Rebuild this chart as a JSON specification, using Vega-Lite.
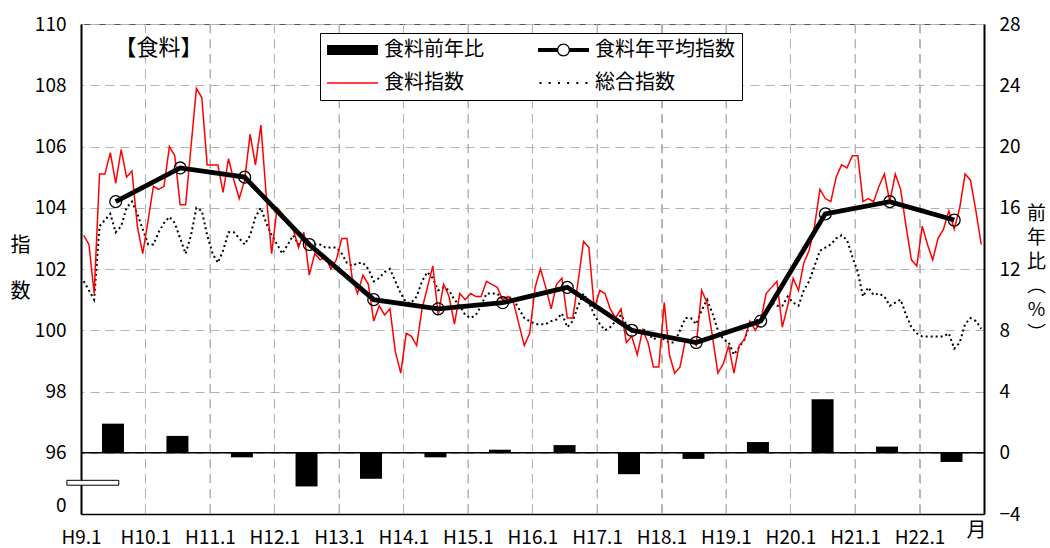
{
  "$schema": "https://vega.github.io/schema/vega-lite/v6.json",
  "width": 903,
  "height": 490,
  "autosize": {"type": "none"},
  "padding": {"left": 81, "top": 24, "right": 66, "bottom": 34},
  "background": "white",
  "config": {
    "font": "Noto Sans CJK JP",
    "view": {"stroke": "#555555", "strokeWidth": 1},
    "axis": {
      "labelFont": "Noto Sans CJK JP",
      "labelFontSize": 19,
      "labelColor": "black",
      "titleFont": "Noto Sans CJK JP",
      "titleFontSize": 20,
      "titleFontWeight": "normal",
      "titleColor": "black",
      "domainColor": "black",
      "domainWidth": 2,
      "ticks": false,
      "gridColor": "#b4b4b4",
      "gridDash": [9, 6],
      "gridWidth": 1
    }
  },
  "datasets": {
    "monthly": [
      {"d":"1997-01","food":103.1,"total":101.6},{"d":"1997-02","food":102.8,"total":101.3},{"d":"1997-03","food":101.2,"total":101.0},{"d":"1997-04","food":105.1,"total":103.4},{"d":"1997-05","food":105.1,"total":103.6},{"d":"1997-06","food":105.8,"total":103.8},{"d":"1997-07","food":104.8,"total":103.2},{"d":"1997-08","food":105.9,"total":103.4},{"d":"1997-09","food":105.0,"total":104.0},{"d":"1997-10","food":105.2,"total":104.2},{"d":"1997-11","food":103.4,"total":103.8},{"d":"1997-12","food":102.5,"total":103.3},
      {"d":"1998-01","food":103.6,"total":102.8},{"d":"1998-02","food":104.7,"total":102.8},{"d":"1998-03","food":104.6,"total":103.2},{"d":"1998-04","food":104.7,"total":103.5},{"d":"1998-05","food":106.0,"total":103.7},{"d":"1998-06","food":105.7,"total":103.5},{"d":"1998-07","food":104.1,"total":103.0},{"d":"1998-08","food":104.1,"total":102.5},{"d":"1998-09","food":106.0,"total":103.1},{"d":"1998-10","food":107.9,"total":104.0},{"d":"1998-11","food":107.6,"total":103.9},{"d":"1998-12","food":105.4,"total":103.1},
      {"d":"1999-01","food":105.4,"total":102.5},{"d":"1999-02","food":105.4,"total":102.2},{"d":"1999-03","food":104.5,"total":102.6},{"d":"1999-04","food":105.6,"total":103.2},{"d":"1999-05","food":104.9,"total":103.2},{"d":"1999-06","food":104.3,"total":103.0},{"d":"1999-07","food":104.9,"total":102.8},{"d":"1999-08","food":106.4,"total":103.1},{"d":"1999-09","food":105.4,"total":103.7},{"d":"1999-10","food":106.7,"total":104.0},{"d":"1999-11","food":104.4,"total":103.5},{"d":"1999-12","food":102.5,"total":103.1},
      {"d":"2000-01","food":104.0,"total":102.8},{"d":"2000-02","food":103.8,"total":102.5},{"d":"2000-03","food":103.5,"total":102.8},{"d":"2000-04","food":103.3,"total":103.1},{"d":"2000-05","food":102.7,"total":102.8},{"d":"2000-06","food":103.2,"total":103.0},{"d":"2000-07","food":101.8,"total":102.7},{"d":"2000-08","food":102.5,"total":102.8},{"d":"2000-09","food":102.3,"total":102.8},{"d":"2000-10","food":102.4,"total":102.7},{"d":"2000-11","food":102.0,"total":102.7},{"d":"2000-12","food":102.3,"total":102.7},
      {"d":"2001-01","food":103.0,"total":102.5},{"d":"2001-02","food":103.0,"total":102.2},{"d":"2001-03","food":101.7,"total":102.1},{"d":"2001-04","food":101.2,"total":102.2},{"d":"2001-05","food":101.8,"total":102.2},{"d":"2001-06","food":101.5,"total":102.0},{"d":"2001-07","food":100.3,"total":101.6},{"d":"2001-08","food":100.8,"total":101.7},{"d":"2001-09","food":100.5,"total":101.9},{"d":"2001-10","food":100.7,"total":102.0},{"d":"2001-11","food":99.3,"total":101.6},{"d":"2001-12","food":98.6,"total":101.2},
      {"d":"2002-01","food":99.9,"total":100.9},{"d":"2002-02","food":99.8,"total":100.9},{"d":"2002-03","food":99.5,"total":101.1},{"d":"2002-04","food":100.7,"total":101.6},{"d":"2002-05","food":101.4,"total":101.9},{"d":"2002-06","food":102.1,"total":101.7},{"d":"2002-07","food":100.5,"total":101.3},{"d":"2002-08","food":101.5,"total":101.4},{"d":"2002-09","food":101.1,"total":101.3},{"d":"2002-10","food":100.2,"total":101.0},{"d":"2002-11","food":101.2,"total":100.8},{"d":"2002-12","food":101.0,"total":100.5},
      {"d":"2003-01","food":101.2,"total":100.4},{"d":"2003-02","food":101.1,"total":100.5},{"d":"2003-03","food":101.1,"total":100.8},{"d":"2003-04","food":101.6,"total":101.2},{"d":"2003-05","food":101.5,"total":101.2},{"d":"2003-06","food":101.4,"total":101.2},{"d":"2003-07","food":101.0,"total":101.0},{"d":"2003-08","food":101.1,"total":101.1},{"d":"2003-09","food":100.9,"total":101.0},{"d":"2003-10","food":100.2,"total":100.7},{"d":"2003-11","food":99.5,"total":100.4},{"d":"2003-12","food":99.9,"total":100.3},
      {"d":"2004-01","food":101.4,"total":100.2},{"d":"2004-02","food":102.0,"total":100.2},{"d":"2004-03","food":101.4,"total":100.2},{"d":"2004-04","food":100.7,"total":100.3},{"d":"2004-05","food":101.5,"total":100.35},{"d":"2004-06","food":101.7,"total":100.55},{"d":"2004-07","food":100.4,"total":100.1},{"d":"2004-08","food":100.4,"total":100.3},{"d":"2004-09","food":101.6,"total":100.8},{"d":"2004-10","food":102.9,"total":101.2},{"d":"2004-11","food":102.7,"total":100.9},{"d":"2004-12","food":100.7,"total":100.5},
      {"d":"2005-01","food":101.3,"total":100.2},{"d":"2005-02","food":101.2,"total":100.0},{"d":"2005-03","food":100.7,"total":100.1},{"d":"2005-04","food":100.4,"total":100.3},{"d":"2005-05","food":100.7,"total":100.5},{"d":"2005-06","food":99.6,"total":100.2},{"d":"2005-07","food":99.8,"total":100.05},{"d":"2005-08","food":99.2,"total":99.9},{"d":"2005-09","food":100.0,"total":100.05},{"d":"2005-10","food":99.6,"total":99.9},{"d":"2005-11","food":98.8,"total":99.7},{"d":"2005-12","food":98.8,"total":99.8},
      {"d":"2006-01","food":100.9,"total":99.7},{"d":"2006-02","food":99.2,"total":99.6},{"d":"2006-03","food":98.6,"total":99.6},{"d":"2006-04","food":98.8,"total":100.0},{"d":"2006-05","food":99.7,"total":100.4},{"d":"2006-06","food":99.7,"total":100.4},{"d":"2006-07","food":99.5,"total":100.2},{"d":"2006-08","food":101.3,"total":100.65},{"d":"2006-09","food":100.9,"total":101.0},{"d":"2006-10","food":99.8,"total":100.55},{"d":"2006-11","food":98.6,"total":100.0},{"d":"2006-12","food":98.9,"total":99.7},
      {"d":"2007-01","food":99.5,"total":99.6},{"d":"2007-02","food":98.6,"total":99.2},{"d":"2007-03","food":99.5,"total":99.45},{"d":"2007-04","food":99.7,"total":99.7},{"d":"2007-05","food":100.3,"total":100.2},{"d":"2007-06","food":100.0,"total":100.3},{"d":"2007-07","food":100.3,"total":100.4},{"d":"2007-08","food":101.2,"total":100.65},{"d":"2007-09","food":101.4,"total":100.9},{"d":"2007-10","food":101.6,"total":100.8},{"d":"2007-11","food":100.1,"total":100.8},{"d":"2007-12","food":100.8,"total":101.1},
      {"d":"2008-01","food":101.7,"total":100.9},{"d":"2008-02","food":101.3,"total":100.8},{"d":"2008-03","food":102.2,"total":101.3},{"d":"2008-04","food":102.6,"total":101.6},{"d":"2008-05","food":103.4,"total":102.1},{"d":"2008-06","food":104.6,"total":102.6},{"d":"2008-07","food":104.3,"total":102.7},{"d":"2008-08","food":104.2,"total":102.8},{"d":"2008-09","food":105.0,"total":103.0},{"d":"2008-10","food":105.4,"total":103.1},{"d":"2008-11","food":105.3,"total":102.95},{"d":"2008-12","food":105.7,"total":102.4},
      {"d":"2009-01","food":105.7,"total":101.9},{"d":"2009-02","food":104.2,"total":101.1},{"d":"2009-03","food":104.3,"total":101.4},{"d":"2009-04","food":104.2,"total":101.15},{"d":"2009-05","food":104.7,"total":101.2},{"d":"2009-06","food":105.1,"total":101.1},{"d":"2009-07","food":104.2,"total":100.8},{"d":"2009-08","food":105.1,"total":100.9},{"d":"2009-09","food":104.6,"total":101.0},{"d":"2009-10","food":103.4,"total":100.5},{"d":"2009-11","food":102.3,"total":100.1},{"d":"2009-12","food":102.1,"total":99.9},
      {"d":"2010-01","food":103.4,"total":99.8},{"d":"2010-02","food":102.8,"total":99.8},{"d":"2010-03","food":102.3,"total":99.8},{"d":"2010-04","food":103.0,"total":99.8},{"d":"2010-05","food":103.3,"total":99.8},{"d":"2010-06","food":103.9,"total":99.9},{"d":"2010-07","food":103.3,"total":99.4},{"d":"2010-08","food":104.0,"total":99.6},{"d":"2010-09","food":105.1,"total":100.2},{"d":"2010-10","food":104.9,"total":100.4},{"d":"2010-11","food":103.9,"total":100.3},{"d":"2010-12","food":102.8,"total":100.05}
    ],
    "annual": [
      {"d":"1997-07","avg":104.2,"yoy":1.9},{"d":"1998-07","avg":105.3,"yoy":1.1},{"d":"1999-07","avg":105.0,"yoy":-0.3},{"d":"2000-07","avg":102.8,"yoy":-2.2},{"d":"2001-07","avg":101.0,"yoy":-1.7},{"d":"2002-07","avg":100.7,"yoy":-0.3},{"d":"2003-07","avg":100.9,"yoy":0.2},{"d":"2004-07","avg":101.4,"yoy":0.5},{"d":"2005-07","avg":100.0,"yoy":-1.4},{"d":"2006-07","avg":99.6,"yoy":-0.4},{"d":"2007-07","avg":100.3,"yoy":0.7},{"d":"2008-07","avg":103.8,"yoy":3.5},{"d":"2009-07","avg":104.2,"yoy":0.4},{"d":"2010-07","avg":103.6,"yoy":-0.6}
    ],
    "years": [{"g":"1998-01"},{"g":"1999-01"},{"g":"2000-01"},{"g":"2001-01"},{"g":"2002-01"},{"g":"2003-01"},{"g":"2004-01"},{"g":"2005-01"},{"g":"2006-01"},{"g":"2007-01"},{"g":"2008-01"},{"g":"2009-01"},{"g":"2010-01"}],
    "keys": [{"s":"食料前年比"},{"s":"食料年平均指数"},{"s":"食料指数"},{"s":"総合指数"}]
  },
  "layer": [
    {
      "layer": [
        {
          "data": {"name": "years"},
          "mark": {"type": "rule", "color": "#b4b4b4", "strokeWidth": 1, "strokeDash": [9, 6]},
          "encoding": {
            "x": {"field": "g", "type": "temporal",
              "axis": {"tickCount": {"interval": "year", "step": 1}, "grid": true, "labelExpr": "utcyear(datum.value) < 2011 ? 'H' + (utcyear(datum.value) - 1988) + '.1' : ''", "labelPadding": 14, "labelFlush": false, "labelOverlap": false, "domainWidth": 1.5, "title": "月", "titleX": 895, "titleY": 16, "titleAlign": "center", "titleBaseline": "middle"}}
          }
        },
        {
          "data": {"name": "annual"},
          "mark": {"type": "bar", "size": 22, "color": "black"},
          "encoding": {
            "x": {
              "field": "d", "type": "temporal",
              "scale": {"type": "utc", "nice": false, "padding": 0, "domain": [{"year":1997,"month":1,"date":1,"utc":true},{"year":2011,"month":1,"date":1,"utc":true}]},
              "axis": {"tickCount": {"interval": "year", "step": 1}, "grid": true, "labelExpr": "utcyear(datum.value) < 2011 ? 'H' + (utcyear(datum.value) - 1988) + '.1' : ''", "labelPadding": 14, "labelFlush": false, "labelOverlap": false, "domainWidth": 1.5, "title": "月", "titleX": 895, "titleY": 16, "titleAlign": "center", "titleBaseline": "middle"}
            },
            "y": {
              "field": "yoy", "type": "quantitative",
              "scale": {"domain": [-4, 28], "nice": false, "zero": false},
              "axis": {"orient": "right", "values": [-4, 0, 4, 8, 12, 16, 20, 24, 28], "grid": true, "labelPadding": 15, "title": ["前", "年", "比", "︵", "%", "︶"], "titleFontSize": 19, "titleAngle": 0, "titleX": 52, "titleY": 189, "titleLineHeight": 24, "titleAlign": "center", "titleBaseline": "middle"}
            },
            "y2": {"datum": 0}
          }
        },
        {
          "data": {"values": [{}]},
          "mark": {"type": "rule", "color": "black", "strokeWidth": 1.5},
          "encoding": {"y": {"datum": 0, "type": "quantitative"}}
        }
      ]
    },
    {
      "layer": [
        {
          "data": {"name": "monthly"},
          "mark": {"type": "line", "color": "black", "strokeWidth": 2, "strokeDash": [2, 3]},
          "encoding": {
            "x": {"field": "d", "timeUnit": "utcyearmonth", "type": "temporal", "bandPosition": 0.5,
              "axis": {"tickCount": {"interval": "year", "step": 1}, "grid": true, "labelExpr": "utcyear(datum.value) < 2011 ? 'H' + (utcyear(datum.value) - 1988) + '.1' : ''", "labelPadding": 14, "labelFlush": false, "labelOverlap": false, "domainWidth": 1.5, "title": "月", "titleX": 895, "titleY": 16, "titleAlign": "center", "titleBaseline": "middle"}},
            "y": {
              "field": "total", "type": "quantitative",
              "scale": {"domain": [94, 110], "nice": false, "zero": false},
              "axis": {"orient": "left", "values": [94.27, 96, 98, 100, 102, 104, 106, 108, 110], "format": "d", "labelExpr": "datum.value < 95 ? '0' : datum.label", "grid": false, "labelPadding": 15, "title": ["指", "数"], "titleAngle": 0, "titleX": -61, "titleY": 221, "titleLineHeight": 46, "titleAlign": "center", "titleBaseline": "middle"}
            }
          }
        },
        {
          "data": {"name": "monthly"},
          "mark": {"type": "line", "color": "#ff0000", "strokeWidth": 1.5},
          "encoding": {
            "x": {"field": "d", "timeUnit": "utcyearmonth", "type": "temporal", "bandPosition": 0.5,
              "axis": {"tickCount": {"interval": "year", "step": 1}, "grid": true, "labelExpr": "utcyear(datum.value) < 2011 ? 'H' + (utcyear(datum.value) - 1988) + '.1' : ''", "labelPadding": 14, "labelFlush": false, "labelOverlap": false, "domainWidth": 1.5, "title": "月", "titleX": 895, "titleY": 16, "titleAlign": "center", "titleBaseline": "middle"}},
            "y": {"field": "food", "type": "quantitative",
              "axis": {"orient": "left", "values": [94.27, 96, 98, 100, 102, 104, 106, 108, 110], "format": "d", "labelExpr": "datum.value < 95 ? '0' : datum.label", "grid": false, "labelPadding": 15, "title": ["指", "数"], "titleAngle": 0, "titleX": -61, "titleY": 221, "titleLineHeight": 46, "titleAlign": "center", "titleBaseline": "middle"}}
          }
        },
        {
          "data": {"name": "annual"},
          "mark": {"type": "line", "color": "black", "strokeWidth": 4.8},
          "encoding": {
            "x": {"field": "d", "timeUnit": "utcyearmonth", "type": "temporal", "bandPosition": 0.5,
              "axis": {"tickCount": {"interval": "year", "step": 1}, "grid": true, "labelExpr": "utcyear(datum.value) < 2011 ? 'H' + (utcyear(datum.value) - 1988) + '.1' : ''", "labelPadding": 14, "labelFlush": false, "labelOverlap": false, "domainWidth": 1.5, "title": "月", "titleX": 895, "titleY": 16, "titleAlign": "center", "titleBaseline": "middle"}},
            "y": {"field": "avg", "type": "quantitative",
              "axis": {"orient": "left", "values": [94.27, 96, 98, 100, 102, 104, 106, 108, 110], "format": "d", "labelExpr": "datum.value < 95 ? '0' : datum.label", "grid": false, "labelPadding": 15, "title": ["指", "数"], "titleAngle": 0, "titleX": -61, "titleY": 221, "titleLineHeight": 46, "titleAlign": "center", "titleBaseline": "middle"}}
          }
        },
        {
          "data": {"name": "annual"},
          "mark": {"type": "point", "shape": "circle", "filled": false, "stroke": "black", "strokeWidth": 1.3, "size": 140, "opacity": 1},
          "encoding": {
            "x": {"field": "d", "timeUnit": "utcyearmonth", "type": "temporal", "bandPosition": 0.5,
              "axis": {"tickCount": {"interval": "year", "step": 1}, "grid": true, "labelExpr": "utcyear(datum.value) < 2011 ? 'H' + (utcyear(datum.value) - 1988) + '.1' : ''", "labelPadding": 14, "labelFlush": false, "labelOverlap": false, "domainWidth": 1.5, "title": "月", "titleX": 895, "titleY": 16, "titleAlign": "center", "titleBaseline": "middle"}},
            "y": {"field": "avg", "type": "quantitative",
              "axis": {"orient": "left", "values": [94.27, 96, 98, 100, 102, 104, 106, 108, 110], "format": "d", "labelExpr": "datum.value < 95 ? '0' : datum.label", "grid": false, "labelPadding": 15, "title": ["指", "数"], "titleAngle": 0, "titleX": -61, "titleY": 221, "titleLineHeight": 46, "titleAlign": "center", "titleBaseline": "middle"}}
          }
        },
        {
          "data": {"values": [{}]},
          "mark": {"type": "rect", "fill": "white", "stroke": "black", "strokeWidth": 1, "clip": false},
          "encoding": {
            "x": {"datum": {"year": 1996, "month": 10, "date": 13, "utc": true}, "type": "temporal"},
            "x2": {"datum": {"year": 1997, "month": 8, "date": 3, "utc": true}},
            "y": {"datum": 95.1, "type": "quantitative"},
            "y2": {"datum": 94.94}
          }
        },
        {
          "data": {"values": [{}]},
          "mark": {"type": "text", "text": "【食料】", "font": "Noto Sans CJK JP", "fontSize": 22, "align": "center", "baseline": "middle", "color": "black"},
          "encoding": {
            "x": {"datum": {"year": 1998, "month": 3, "date": 16, "utc": true}, "type": "temporal"},
            "y": {"datum": 109.22, "type": "quantitative"}
          }
        },
        {
          "data": {"name": "keys"},
          "mark": {"type": "point", "filled": true, "opacity": 0, "strokeWidth": 0},
          "encoding": {
            "color": {
              "field": "s", "type": "nominal",
              "scale": {"domain": ["食料前年比", "食料指数", "食料年平均指数", "総合指数"], "range": ["#000000", "#ff0000", "#000000", "#000000"]},
              "legend": {
                "title": null, "orient": "none", "legendX": 239, "legendY": 9, "columns": 2, "columnPadding": 54, "rowPadding": 13, "padding": 7,
                "fillColor": "white", "strokeColor": "black",
                "labelFont": "Noto Sans CJK JP", "labelFontSize": 20, "labelColor": "black", "labelOffset": 21.5, "labelLimit": 400,
                "symbolSize": 400, "symbolOffset": 15.5, "symbolStrokeWidth": 0, "symbolOpacity": 1
              }
            },
            "shape": {
              "field": "s", "type": "nominal",
              "scale": {
                "domain": ["食料前年比", "食料指数", "食料年平均指数", "総合指数"],
                "range": [
                  "M-2.55,-0.5H2.55V0.5H-2.55Z",
                  "M-2.55,-0.075H2.55V0.075H-2.55Z",
                  "M-2.55,-0.2H-0.62V0.2H-2.55Z M0.62,-0.2H2.55V0.2H0.62Z M0.65,0A0.65,0.65 0 1,1 -0.65,0A0.65,0.65 0 1,1 0.65,0Z M0.52,0A0.52,0.52 0 1,0 -0.52,0A0.52,0.52 0 1,0 0.52,0Z",
                  "M-2.4,-0.1h0.2v0.2h-0.2Z M-1.48,-0.1h0.2v0.2h-0.2Z M-0.56,-0.1h0.2v0.2h-0.2Z M0.36,-0.1h0.2v0.2h-0.2Z M1.28,-0.1h0.2v0.2h-0.2Z M2.2,-0.1h0.2v0.2h-0.2Z"
                ]
              },
              "legend": {
                "title": null, "orient": "none", "legendX": 239, "legendY": 9, "columns": 2, "columnPadding": 54, "rowPadding": 13, "padding": 7,
                "fillColor": "white", "strokeColor": "black",
                "labelFont": "Noto Sans CJK JP", "labelFontSize": 20, "labelColor": "black", "labelOffset": 21.5, "labelLimit": 400,
                "symbolSize": 400, "symbolOffset": 15.5, "symbolStrokeWidth": 0, "symbolOpacity": 1
              }
            }
          }
        }
      ]
    }
  ],
  "resolve": {"scale": {"y": "independent"}, "axis": {"y": "independent"}}
}
